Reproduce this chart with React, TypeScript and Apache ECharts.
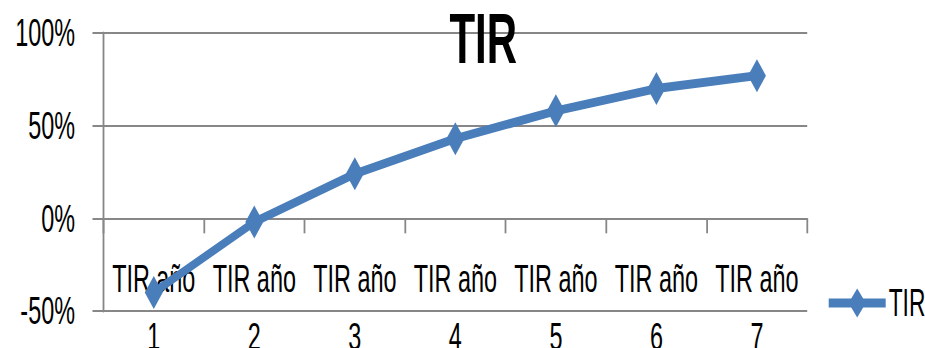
import React, { useEffect, useRef } from "react";
import * as echarts from "echarts";

const seriesName = "TIR";
const categoryLabels = ["TIR año 1", "TIR año 2", "TIR año 3", "TIR año 4", "TIR año 5", "TIR año 6", "TIR año 7"];
const tirValues = [-40, -2, 24, 43, 58, 70, 77];
const yMin = -50;
const yMax = 100;
const yStep = 50;

const S = 0.6;
const OUT_W = 925;
const OUT_H = 348;
const W = OUT_W / S;

export default function App() {
  const ref = useRef<HTMLDivElement>(null);
  useEffect(() => {
    if (!ref.current) return;
    const chart = echarts.init(ref.current, undefined, { renderer: "svg" });
    const font = "Liberation Sans";
    const grey = "#878787";
    const blue = "#4a7ebb";
    chart.setOption({
      animation: false,
      textStyle: { fontFamily: font },
      title: {
        text: "TIR",
        left: 749,
        top: 0,
        padding: 0,
        textStyle: { fontSize: 70, fontWeight: "bold", color: "#000", lineHeight: 78, fontFamily: font },
      },
      legend: {
        data: [seriesName],
        left: 826 / S,
        top: 284,
        padding: 0,
        itemWidth: 57 / S,
        itemHeight: 36,
        lineStyle: { width: 9 },
        textStyle: { fontSize: 38, color: "#000", fontFamily: font },
      },
      grid: {
        left: 103.5 / S,
        right: W - 807 / S,
        top: 33,
        bottom: OUT_H - 311,
        containLabel: false,
        outerBoundsMode: "none",
      },
      xAxis: {
        type: "category",
        data: categoryLabels,
        boundaryGap: true,
        axisLine: { show: true, onZero: true, lineStyle: { color: grey, width: 2 } },
        axisTick: { show: true, length: 15, interval: 0, lineStyle: { color: grey, width: 3 } },
        axisLabel: {
          interval: 0,
          margin: -61,
          fontSize: 39,
          lineHeight: 58,
          color: "#000",
          fontFamily: font,
          formatter: (v: string) => v.replace(/ (\d+)$/, "\n$1"),
        },
        splitLine: { show: false },
      },
      yAxis: {
        type: "value",
        min: yMin,
        max: yMax,
        interval: yStep,
        axisLine: { show: true, lineStyle: { color: grey, width: 3 } },
        axisTick: { show: true, length: 11 / S, lineStyle: { color: grey, width: 2 } },
        axisLabel: {
          margin: 28.5 / S,
          fontSize: 39,
          color: "#000",
          fontFamily: font,
          formatter: "{value}%",
        },
        splitLine: { show: true, lineStyle: { color: grey, width: 2 } },
      },
      series: [
        {
          name: seriesName,
          type: "line",
          data: tirValues,
          symbol: "diamond",
          symbolSize: [30, 33],
          lineStyle: { color: blue, width: 9 },
          itemStyle: { color: blue },
        },
      ],
    });
    return () => chart.dispose();
  }, []);

  return (
    <div
      style={{
        position: "absolute",
        left: 0,
        top: 0,
        width: OUT_W,
        height: OUT_H,
        overflow: "hidden",
        background: "#fff",
      }}
    >
      <div
        ref={ref}
        style={{
          width: W,
          height: OUT_H,
          transform: `scaleX(${S})`,
          transformOrigin: "0 0",
        }}
      />
    </div>
  );
}
